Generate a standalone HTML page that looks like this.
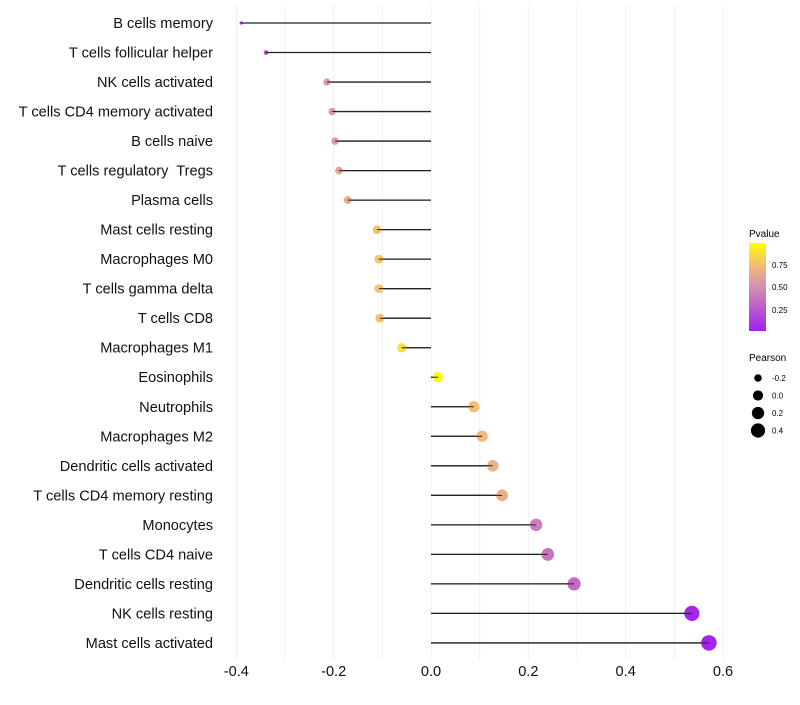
<!DOCTYPE html>
<html><head><meta charset="utf-8"><style>
body{margin:0;background:#fff;font-family:"Liberation Sans",sans-serif}
svg text{font-family:"Liberation Sans",sans-serif;white-space:pre}
</style></head><body>
<svg id="chart" width="800" height="700" xmlns="http://www.w3.org/2000/svg">
<defs><linearGradient id="pg" x1="0" y1="1" x2="0" y2="0">
<stop offset="0" stop-color="#a020f0"/><stop offset="0.5" stop-color="#d58fb0"/><stop offset="0.75" stop-color="#f2bc78"/><stop offset="1" stop-color="#ffff00"/></linearGradient></defs>
<g id="grid"></g>
<g id="marks"></g>
<g id="labels"></g>
<g id="xticks"></g>
<g>
<text x="749" y="237" font-size="10">Pvalue</text>
<rect x="749" y="243" width="17" height="88" fill="url(#pg)"/>
<text x="772" y="268" font-size="8">0.75</text>
<text x="772" y="290" font-size="8">0.50</text>
<text x="772" y="313" font-size="8">0.25</text>
</g>
<g id="sizeleg">
<text x="749" y="361" font-size="10">Pearson</text>
</g>
</svg>
<script>
const categories=["B cells memory","T cells follicular helper","NK cells activated","T cells CD4 memory activated","B cells naive","T cells regulatory  Tregs","Plasma cells","Mast cells resting","Macrophages M0","T cells gamma delta","T cells CD8","Macrophages M1","Eosinophils","Neutrophils","Macrophages M2","Dendritic cells activated","T cells CD4 memory resting","Monocytes","T cells CD4 naive","Dendritic cells resting","NK cells resting","Mast cells activated"];
const pearson=[-0.39,-0.339,-0.214,-0.203,-0.197,-0.189,-0.171,-0.111,-0.107,-0.107,-0.105,-0.06,0.014,0.088,0.105,0.127,0.146,0.216,0.24,0.294,0.536,0.571];
const pvalue=[0.1,0.2,0.55,0.55,0.57,0.6,0.65,0.78,0.78,0.78,0.78,0.88,0.99,0.76,0.74,0.7,0.68,0.42,0.38,0.33,0.03,0.02];
const xTicks=[-0.4,-0.2,0.0,0.2,0.4,0.6];
const sizeLegend=[-0.2,0.0,0.2,0.4];
const NS="http://www.w3.org/2000/svg";
const x0=431,kx=486.7,y0=23,ky=29.52,yTop=5,yBot=660;
const xs=v=>x0+v*kx, ys=i=>y0+i*ky;
const rad=v=>Math.sqrt(Math.max(1,26+60*v));
function col(p){const st=[[0,[160,32,240]],[0.5,[213,143,176]],[0.75,[242,188,120]],[1,[255,255,0]]];
for(let i=1;i<st.length;i++){if(p<=st[i][0]){const a=st[i-1],b=st[i],t=(p-a[0])/(b[0]-a[0]);return "rgb("+a[1].map((c,j)=>Math.round(c+(b[1][j]-c)*t)).join(",")+")";}}return "rgb(255,255,0)";}
function mk(t,a,p){const e=document.createElementNS(NS,t);for(const k in a)e.setAttribute(k,a[k]);p.appendChild(e);return e;}
const grid=document.getElementById('grid'),marks=document.getElementById('marks'),labels=document.getElementById('labels'),xt=document.getElementById('xticks');
for(let v=-0.4;v<=0.61;v+=0.1){const g=mk('line',{x1:xs(v),x2:xs(v),y1:yTop,y2:yBot,stroke:'#f0f0f0','stroke-width':1},grid);

}
xTicks.forEach(v=>{const t=mk('text',{x:xs(v),y:676,'font-size':14.6,'text-anchor':'middle',fill:'#111'},xt);t.textContent=v.toFixed(1);

});
categories.forEach((c,i)=>{const y=ys(i);
const t=mk('text',{x:213,y:y+5,'font-size':14.6,'text-anchor':'end',fill:'#111'},labels);t.textContent=c;


const l=mk('line',{x1:x0,x2:xs(pearson[i]),y1:y,y2:y,stroke:'#222','stroke-width':1.3},marks);


const d=mk('circle',{cx:xs(pearson[i]),cy:y,r:rad(pearson[i]),fill:col(pvalue[i])},marks);


const l2=mk('line',{x1:x0,x2:xs(pearson[i]),y1:y,y2:y,stroke:'#222','stroke-width':1},marks);

});
const sl=document.getElementById('sizeleg');
sizeLegend.forEach((v,i)=>{const y=378+i*17.5;
const c=mk('circle',{cx:758,cy:y,r:rad(v),fill:'#000'},sl);


const t=mk('text',{x:772,y:y+3,'font-size':8},sl);t.textContent=v.toFixed(1);

});
</script>
</body></html>
